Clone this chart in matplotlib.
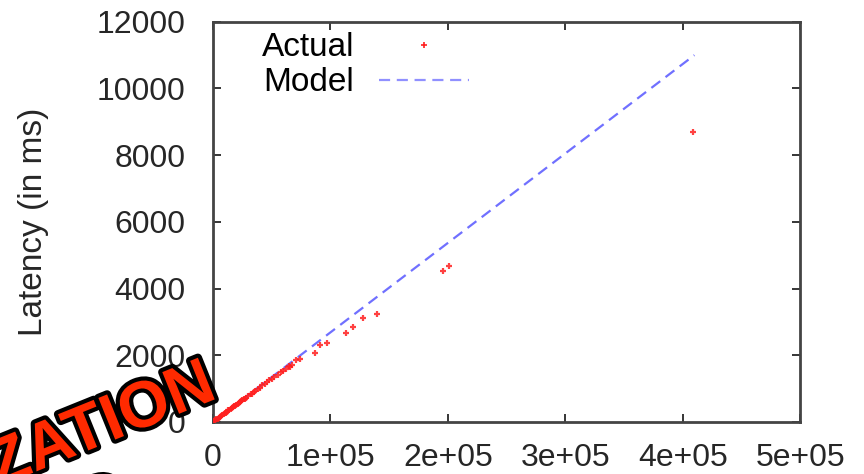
import matplotlib
matplotlib.use("Agg")
import matplotlib.pyplot as plt
import matplotlib.patheffects as pe
from matplotlib.lines import Line2D

# Measured points (input size, latency in ms)
actual_x = [500, 1000, 2000, 3000, 4000, 5000, 6000, 7000, 8000, 9000,
            10000, 11000, 12000, 13000, 14000, 15000, 16000, 17000, 18000, 19000,
            20000, 21000, 22000, 23000, 24000, 25000, 26000, 27000, 28000, 30000,
            32000, 33000, 35000, 36000, 38000, 40000, 42000, 44000, 46000, 48000,
            50000, 52000, 55000, 58000, 60000, 62000, 65000, 66000, 67000, 71000,
            74000, 87000, 91000, 97000, 113000, 119000, 128000, 140000,
            196000, 201000, 408500]
actual_y = [15, 30, 55, 80, 100, 125, 160, 180, 210, 230,
            265, 280, 310, 345, 360, 390, 410, 450, 470, 490,
            520, 550, 570, 600, 615, 650, 680, 690, 730, 770,
            840, 850, 910, 930, 990, 1030, 1100, 1140, 1190, 1250,
            1280, 1350, 1420, 1500, 1540, 1600, 1680, 1640, 1700, 1850,
            1900, 2060, 2300, 2360, 2660, 2840, 3130, 3250,
            4540, 4690, 8690]

model_x = [0, 410000]
model_y = [0, 11000]

xticks = [0, 100000, 200000, 300000, 400000, 500000]
xtick_labels = ["0", "1e+05", "2e+05", "3e+05", "4e+05", "5e+05"]
yticks = [0, 2000, 4000, 6000, 8000, 10000, 12000]

plt.rcParams["font.family"] = ["Liberation Sans", "DejaVu Sans"]

fig = plt.figure(figsize=(8.64, 4.74), dpi=100)
ax = fig.add_axes([0.2465, 0.11, 0.6795, 0.844])

ax.plot(actual_x, actual_y, linestyle="none", marker="+", markersize=5,
        markeredgewidth=1.6, color="#ff2020", alpha=0.85, zorder=3)
ax.plot(model_x, model_y, color="#7070ff", linewidth=1.6,
        dashes=(5, 3), zorder=2)

ax.set_xlim(0, 500000)
ax.set_ylim(0, 12000)
ax.set_xticks(xticks)
ax.set_xticklabels(xtick_labels)
ax.set_yticks(yticks)
ax.tick_params(direction="in", length=6, width=1.3, labelsize=23,
               colors="#262626", top=True, right=True)
ax.tick_params(axis="x", pad=15)
ax.tick_params(axis="y", pad=20)
for s in ax.spines.values():
    s.set_linewidth(2)
    s.set_color("#444444")
ax.set_ylabel("Latency (in ms)", fontsize=24, color="#262626", labelpad=34)

handles = [Line2D([], [], linestyle="none", marker="+", markersize=5,
                  markeredgewidth=1.2, color="#ff2020"),
           Line2D([], [], color="#9090ff", linewidth=1.6, dashes=(5, 3))]
ax.legend(handles, ["Actual", "Model"], loc="upper left",
          bbox_to_anchor=(0.072, 0.99), frameon=False, markerfirst=False,
          fontsize=24, handlelength=2.7, handletextpad=0.75,
          labelspacing=0.12, borderaxespad=0.0, borderpad=0.2)

# slide stamp overlay
stamp = dict(fontsize=47, fontweight="bold", color="#ff2a00",
             rotation=22, rotation_mode="anchor", family="Liberation Sans",
             ha="center", va="center",
             path_effects=[pe.withSimplePatchShadow(offset=(2, -2), alpha=0.3),
                           pe.withStroke(linewidth=6, foreground="black")],
             zorder=10)
fig.text(0.118, 0.100, "ZATION", **stamp)
fig.text(0.121, -0.062, "D", **stamp)

fig.savefig("out.png", dpi=100)
